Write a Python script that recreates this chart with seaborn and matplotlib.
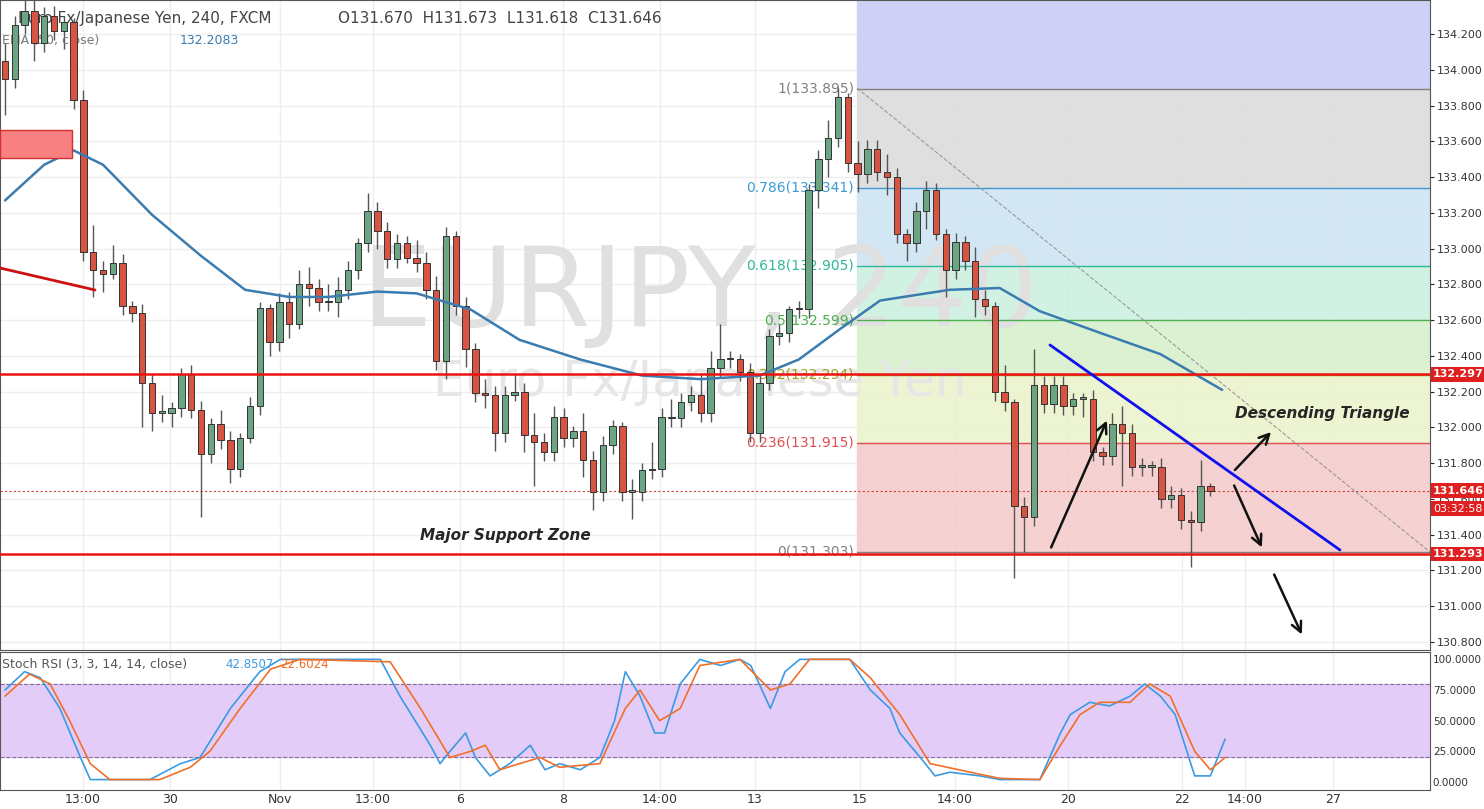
import numpy as np
import pandas as pd
import seaborn as sns
import matplotlib.pyplot as plt
from matplotlib.patches import Rectangle

# 4h EURJPY candles (closes, opens = previous close)
closes = [133.95, 134.25, 134.33, 134.15, 134.30, 134.22, 134.27,
          133.83, 132.98, 132.88, 132.86, 132.92, 132.68, 132.64, 132.25, 132.08, 132.08,
          132.11, 132.30, 132.10, 131.85, 132.02, 131.93, 131.77, 131.94, 132.12, 132.67,
          132.48, 132.70, 132.58, 132.80, 132.78, 132.70, 132.70, 132.77, 132.88, 133.03,
          133.21, 133.10, 132.94, 133.03, 132.95, 132.92, 132.77, 132.37, 133.07, 132.68,
          132.44, 132.19, 132.18, 131.97, 132.18, 132.20, 131.96, 131.92, 131.86, 132.06,
          131.94, 131.98, 131.82, 131.64, 131.90, 132.01, 131.64, 131.64, 131.76, 131.77,
          132.06, 132.05, 132.14, 132.18, 132.08, 132.33, 132.38, 132.38, 132.31, 131.97,
          132.25, 132.51, 132.53, 132.66, 132.66, 133.33, 133.50, 133.62, 133.85, 133.48,
          133.42, 133.56, 133.43, 133.40, 133.08, 133.03, 133.21, 133.33, 133.08, 132.88,
          133.04, 132.93, 132.72, 132.68, 132.20, 132.14, 131.56, 131.50, 132.24, 132.13,
          132.24, 132.12, 132.16, 132.16, 131.86, 131.84, 132.02, 131.97, 131.78, 131.78,
          131.78, 131.60, 131.62, 131.48, 131.47, 131.67, 131.646]
wick_up = [0.10, 0.05, 0.08, 0.10, 0.05, 0.06, 0.03,
           0.02, 0.06, 0.15, 0.05, 0.10, 0.05, 0.03, 0.05, 0.05, 0.10,
           0.03, 0.03, 0.05, 0.05, 0.03, 0.08, 0.05, 0.03, 0.05, 0.03,
           0.02, 0.05, 0.06, 0.08, 0.10, 0.05, 0.10, 0.07, 0.05, 0.03,
           0.10, 0.05, 0.05, 0.05, 0.04, 0.10, 0.06, 0.08, 0.05, 0.03,
           0.05, 0.03, 0.08, 0.05, 0.05, 0.10, 0.05, 0.12, 0.05, 0.06,
           0.05, 0.03, 0.10, 0.05, 0.05, 0.03, 0.02, 0.07, 0.04, 0.15,
           0.05, 0.10, 0.05, 0.05, 0.12, 0.10, 0.20, 0.05, 0.03, 0.05,
           0.05, 0.04, 0.05, 0.02, 0.05, 0.03, 0.05, 0.10, 0.05, 0.02,
           0.12, 0.05, 0.05, 0.10, 0.05, 0.03, 0.05, 0.05, 0.04, 0.03,
           0.05, 0.03, 0.08, 0.05, 0.02, 0.15, 0.02, 0.05, 0.20, 0.05,
           0.05, 0.05, 0.03, 0.03, 0.05, 0.03, 0.06, 0.10, 0.05, 0.05,
           0.03, 0.05, 0.05, 0.04, 0.05, 0.15, 0.02]
wick_dn = [0.20, 0.05, 0.05, 0.10, 0.05, 0.05, 0.10,
           0.05, 0.05, 0.15, 0.10, 0.03, 0.05, 0.05, 0.25, 0.10, 0.05,
           0.08, 0.05, 0.05, 0.35, 0.05, 0.05, 0.08, 0.05, 0.03, 0.05,
           0.08, 0.05, 0.08, 0.03, 0.10, 0.05, 0.05, 0.08, 0.05, 0.05,
           0.05, 0.10, 0.05, 0.05, 0.03, 0.05, 0.05, 0.05, 0.10, 0.05,
           0.10, 0.05, 0.07, 0.10, 0.05, 0.03, 0.10, 0.25, 0.05, 0.05,
           0.05, 0.05, 0.10, 0.10, 0.05, 0.05, 0.05, 0.15, 0.05, 0.05,
           0.05, 0.05, 0.05, 0.05, 0.05, 0.05, 0.05, 0.05, 0.05, 0.05,
           0.05, 0.04, 0.05, 0.05, 0.05, 0.05, 0.10, 0.10, 0.05, 0.05,
           0.10, 0.05, 0.05, 0.10, 0.05, 0.10, 0.05, 0.10, 0.03, 0.15,
           0.05, 0.05, 0.10, 0.05, 0.05, 0.05, 0.40, 0.20, 0.05, 0.05,
           0.05, 0.05, 0.05, 0.10, 0.05, 0.05, 0.05, 0.30, 0.05, 0.05,
           0.05, 0.05, 0.05, 0.05, 0.25, 0.05, 0.03]
opens = [134.05] + closes[:-1]

# EMA(50) read at (candle index, price)
ema_idx = [0, 4, 7, 10, 15, 20, 24.5, 29, 33, 38, 42, 47.5, 52.5, 58.7, 65, 71, 77, 81, 85.2, 89.3, 96.4, 101.5, 105.6, 111.7, 117.9, 124.2]
ema_val = [133.27, 133.47, 133.55, 133.47, 133.19, 132.96, 132.77, 132.73, 132.73, 132.76, 132.75,
           132.66, 132.49, 132.38, 132.29, 132.27, 132.29, 132.38, 132.55, 132.71, 132.77, 132.78,
           132.65, 132.53, 132.41, 132.21]

# Stoch RSI %K / %D (candle index, value)
k_idx = [0, 2, 3.6, 5.6, 7.7, 8.7, 10.7, 14.8, 17.9, 19.9, 23, 26, 28.1, 34.2, 38.3, 40.3, 43.4, 44.4, 45.4,
         47, 48, 49.5, 51.5, 53.6, 55.1, 56.6, 58.7, 60.7, 62.2, 63.3, 64.8, 66.3, 67.3, 68.9, 70.9, 73,
         75, 76.1, 78.1, 79.6, 81.1, 86.2, 88.3, 90.3, 91.3, 93.4, 94.9, 96.4, 99.5, 101.5, 105.6, 107.7,
         108.7, 110.7, 112.7, 114.8, 116.3, 117.9, 119.4, 121.4, 123, 124.5]
k_val = [75, 90, 85, 60, 20, 2, 2, 2, 15, 20, 60, 90, 100, 100, 100, 70, 30, 15, 25, 40, 20, 5, 15,
         30, 10, 15, 10, 20, 50, 90, 70, 40, 40, 80, 100, 95, 100, 95, 60, 90, 100, 100, 75, 60, 40,
         20, 5, 8, 5, 2, 2, 40, 55, 65, 62, 70, 80, 70, 55, 5, 5, 35]
d_idx = [0, 2.5, 4.6, 6.6, 8.7, 10.7, 15.8, 18.9, 20.9, 24, 27.1, 30.1, 39.3, 42.4, 45.4, 47.5, 49,
         50.5, 52.5, 54.6, 56.6, 60.7, 63.3, 64.8, 66.8, 68.9, 70.9, 75, 78.1, 80.1, 82.1, 86.2, 88.3,
         91.3, 94.4, 98.5, 101.5, 105.6, 107.7, 109.7, 111.7, 114.8, 116.8, 118.9, 121.4, 123, 124.5]
d_val = [70, 88, 80, 50, 15, 2, 2, 12, 25, 60, 92, 100, 98, 60, 20, 25, 30, 10, 15, 20, 12, 15, 60,
         75, 50, 60, 95, 100, 75, 80, 100, 100, 85, 55, 15, 8, 3, 2, 30, 55, 65, 65, 80, 70, 25, 10, 20]

x_ticks_px = [83, 170, 280, 373, 460, 563, 660, 755, 860, 955, 1068, 1182, 1245, 1333]
x_tick_labels = ["13:00", "30", "Nov", "13:00", "6", "8", "14:00", "13", "15", "14:00", "20", "22", "14:00", "27"]

fib_ratios = [1, 0.786, 0.618, 0.5, 0.382, 0.236, 0]
fib_prices = [133.895, 133.341, 132.905, 132.599, 132.294, 131.915, 131.303]

sns.set_style("white")
plt.rcParams['font.family'] = ['DejaVu Sans']

W, H = 1484, 809
fig = plt.figure(figsize=(W / 100, H / 100), dpi=100)
ax = fig.add_axes([0, 1 - 650 / H, 1430 / W, 650 / H])
ax2 = fig.add_axes([0, 1 - 790 / H, 1430 / W, 138 / H])

X0, X1 = -5 / 9.8, 1425 / 9.8
Y_TOP, Y_BOT = 134.0 + 70 / 178.7, 134.0 - 580 / 178.7
ax.set_xlim(X0, X1)
ax.set_ylim(Y_BOT, Y_TOP)
ax2.set_xlim(X0, X1)
ax2.set_ylim(-6.5, 106)


def px(xp):
    return X0 + xp / 1430 * (X1 - X0)


def py(yp):
    return Y_TOP - yp / 650 * (Y_TOP - Y_BOT)


# grid
for t in np.arange(130.8, 134.3, 0.2):
    ax.axhline(t, color="#eeeeee", lw=1, zorder=0)
for xp in x_ticks_px:
    ax.axvline(px(xp), color="#eeeeee", lw=1, zorder=0)
    ax2.axvline(px(xp), color="#eeeeee", lw=1, zorder=0)

# fib zones
fx0 = px(857)
zone_cols = ["#dcdcdc", "#cfe4f2", "#ccf0e0", "#d8f0cc", "#ebf3cc", "#f5cccc"]
ax.add_patch(Rectangle((fx0, fib_prices[0]), X1 - fx0, Y_TOP - fib_prices[0], color="#cfd0f5", zorder=0.5))
for i in range(6):
    ax.add_patch(Rectangle((fx0, fib_prices[i + 1]), X1 - fx0, fib_prices[i] - fib_prices[i + 1],
                           color=zone_cols[i], alpha=0.9, zorder=0.5))
line_cols = ["#808080", "#3d9bd0", "#2fb89a", "#4caf50", "#a0a020", "#e05050", "#808080"]
for r, p, c in zip(fib_ratios, fib_prices, line_cols):
    ax.plot([fx0, X1], [p, p], color=c, lw=1, zorder=1)
    ax.text(fx0 - 0.3, p, f"{r:g}({p:.3f})", color=c, fontsize=10, ha="right", va="center", zorder=1)

# watermark
ax.text(px(700), py(295), "EURJPY, 240", fontsize=80, color="#e0e0e0", ha="center", va="center", zorder=0.6)
ax.text(px(700), py(382), "Euro Fx/Japanese Yen", fontsize=36, color="#e6e6e6", ha="center", va="center", zorder=0.6)

# candles
idx = np.arange(len(closes))
for i, o, c, u, d in zip(idx, opens, closes, wick_up, wick_dn):
    col = "#6ba583" if c >= o else "#d75442"
    hi, lo = max(o, c) + u, min(o, c) - d
    ax.vlines(i, lo, hi, color="#555555", lw=1, zorder=3)
    ax.add_patch(Rectangle((i - 0.33, min(o, c)), 0.66, max(abs(c - o), 0.01), facecolor=col,
                           edgecolor="#333333", lw=0.7, zorder=4))

ema = pd.DataFrame({"i": ema_idx, "v": ema_val})
sns.lineplot(data=ema, x="i", y="v", ax=ax, color="#3b7cb0", lw=1.8, zorder=5)

# horizontal support / resistance
ax.axhline(132.297, color="#ee1111", lw=1.8, zorder=6)
ax.axhline(131.293, color="#ee1111", lw=1.8, zorder=6)
ax.axhline(closes[-1], color="#d04040", lw=0.8, ls=(0, (2, 2)), zorder=2)
ax.plot([px(0), px(95)], [py(268), py(290)], color="#cc1111", lw=2, zorder=6)
ax.add_patch(Rectangle((px(0), py(158)), px(72) - px(0), py(130) - py(158), facecolor="#f88080", edgecolor="#d03030", zorder=6))
ax.plot([fx0, X1], [py(88), py(552)], color="#999999", lw=0.8, ls="--", zorder=2)
ax.plot([px(1050), px(1340)], [py(345), py(550)], color="#1010ee", lw=2, zorder=6)
for (a, b, c2, d2) in [(1050, 550, 1108, 418), (1233, 472, 1273, 430), (1233, 483, 1263, 550), (1273, 572, 1303, 637)]:
    ax.annotate("", xy=(px(c2), py(d2)), xytext=(px(a), py(b)),
                arrowprops=dict(arrowstyle="->", color="#111111", lw=1.8, mutation_scale=18), zorder=7)
ax.text(px(420), py(535), "Major Support Zone", fontsize=11, style="italic", weight="bold", va="center")
ax.text(px(1235), py(413), "Descending Triangle", fontsize=11, style="italic", weight="bold", va="center")

ax.text(px(18), py(18), "Euro Fx/Japanese Yen, 240, FXCM", fontsize=11, color="#444444", va="center")
ax.text(px(338), py(18), "O131.670  H131.673  L131.618  C131.646", fontsize=11, color="#444444", va="center")
ax.text(px(2), py(40), "EMA (50, close)", fontsize=9, color="#777777", va="center")
ax.text(px(180), py(40), "132.2083", fontsize=9, color="#3b7cb0", va="center")

# right price axis
ax.yaxis.tick_right()
ax.set_yticks(np.arange(130.8, 134.3, 0.2))
ax.set_yticklabels([f"{v:.3f}" for v in np.arange(130.8, 134.3, 0.2)], fontsize=8, color="#333333")
ax.tick_params(axis="y", length=3, pad=2)
ax.set_xticks([])
ax.set_xlabel("")
ax.set_ylabel("")
for v, txt in [(132.297, "132.297"), (closes[-1], "131.646"), (131.293, "131.293")]:
    ax.text(1.002, v, txt, transform=ax.get_yaxis_transform(), fontsize=8, color="white", weight="bold",
            va="center", bbox=dict(boxstyle="square,pad=0.2", fc="#e02020", ec="none"), clip_on=False)
ax.text(1.002, closes[-1] - 0.1, "03:32:58", transform=ax.get_yaxis_transform(), fontsize=8, color="white",
        va="center", bbox=dict(boxstyle="square,pad=0.2", fc="#e02020", ec="none"), clip_on=False)

# stoch RSI
ax2.axhspan(20, 80, color="#e4ccf8", zorder=0)
ax2.axhline(80, color="#8a6aa0", lw=0.8, ls="--")
ax2.axhline(20, color="#8a6aa0", lw=0.8, ls="--")
sns.lineplot(x=k_idx, y=k_val, ax=ax2, color="#3a9be0", lw=1.2)
sns.lineplot(x=d_idx, y=d_val, ax=ax2, color="#f0702a", lw=1.2)
ax2.yaxis.tick_right()
ax2.set_yticks([0, 25, 50, 75, 100])
ax2.set_yticklabels(["0.0000", "25.0000", "50.0000", "75.0000", "100.0000"], fontsize=7.5, color="#333333")
ax2.set_xticks([px(x) for x in x_ticks_px])
ax2.set_xticklabels(x_tick_labels, fontsize=9, color="#333333")
ax2.tick_params(axis="x", length=0, pad=2)
ax2.tick_params(axis="y", length=0, pad=2)
ax2.text(px(2), 96, "Stoch RSI (3, 3, 14, 14, close)", fontsize=9, color="#555555", va="center")
ax2.text(px(225), 96, "42.8507", fontsize=8.5, color="#3a9be0", va="center")
ax2.text(px(280), 96, "22.6024", fontsize=8.5, color="#f0702a", va="center")

for a in (ax, ax2):
    for s in a.spines.values():
        s.set_color("#555555")
        s.set_linewidth(0.8)

fig.savefig("out.png", dpi=100)
